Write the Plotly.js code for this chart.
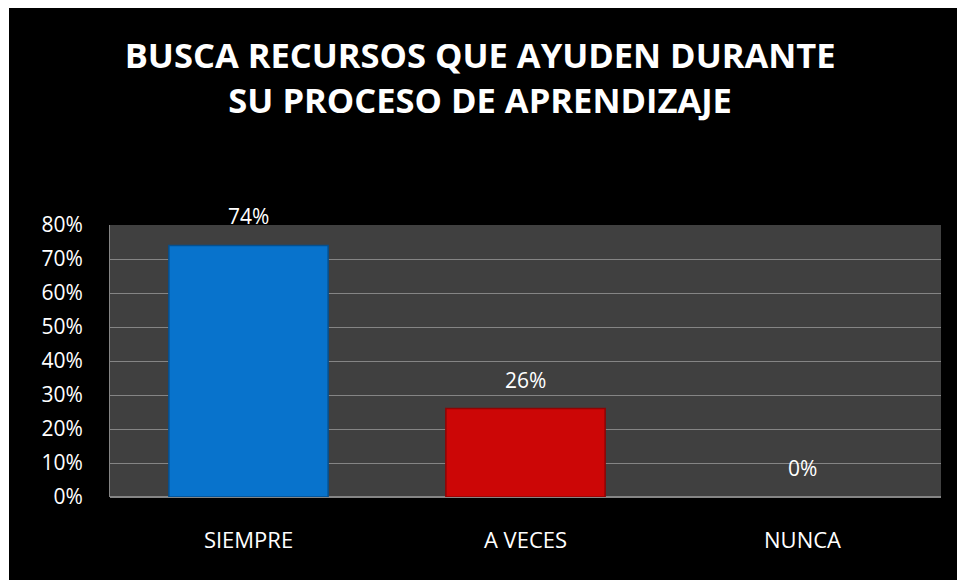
<!DOCTYPE html>
<html>
<head>
<meta charset="utf-8">
<script src="https://cdn.plot.ly/plotly-3.0.1.min.js"></script>
<style>
html,body{margin:0;padding:0;background:#ffffff;width:957px;height:580px;overflow:hidden;}
#chart{position:absolute;left:9px;top:8px;width:948px;height:572px;}
</style>
</head>
<body>
<div id="chart"></div>
<script>
const categories = ["SIEMPRE", "A VECES", "NUNCA"];
const values = [0.74, 0.26, 0.0];
const barColors = ["#0873CC", "#CC0606", "#CC0606"];
const barEdges = ["#05508F", "#8E0404", "rgba(0,0,0,0)"];
const tickVals = [0, 0.1, 0.2, 0.3, 0.4, 0.5, 0.6, 0.7, 0.8];
const tickText = ["0%", "10%", "20%", "30%", "40%", "50%", "60%", "70%", "80%"];
const titleText = "BUSCA RECURSOS QUE AYUDEN DURANTE<br>SU PROCESO DE APRENDIZAJE";

const font = "Open Sans, Lato, sans-serif";
const trace = {
  type: "bar",
  x: categories,
  y: values,
  width: 0.575,
  marker: {
    color: barColors,
    line: {color: barEdges, width: 1.5}
  },
  hoverinfo: "skip"
};
const annotations = categories.map((c, i) => ({
  x: c, y: values[i], xref: "x", yref: "y",
  text: Math.round(values[i] * 100) + "%",
  showarrow: false, yanchor: "bottom", yshift: 13,
  font: {color: "#ffffff", size: 21, family: font}
}));
const layout = {
  width: 948, height: 572,
  paper_bgcolor: "#000000",
  plot_bgcolor: "#404040",
  margin: {l: 101, r: 16, t: 217, b: 83},
  showlegend: false,
  annotations: annotations,
  title: {
    text: titleText,
    font: {color: "#ffffff", size: 34.5, family: font, weight: "bold"},
    x: 0.497, xanchor: "center", y: 0.895, yanchor: "top"
  },
  xaxis: {
    tickfont: {color: "#ffffff", size: 22, family: font},
    showgrid: false, zeroline: false, showline: false,
    ticks: "", ticklabelstandoff: 28
  },
  yaxis: {
    range: [0, 0.8],
    tickvals: tickVals, ticktext: tickText,
    tickfont: {color: "#ffffff", size: 21, family: font},
    showgrid: true, gridcolor: "#858585", gridwidth: 1,
    zeroline: true, zerolinecolor: "#858585", zerolinewidth: 1.5,
    showline: true, linecolor: "#858585", linewidth: 1,
    ticks: "", ticklabelstandoff: 22
  },
  bargap: 0.425
};
Plotly.newPlot("chart", [trace], layout, {displayModeBar: false, staticPlot: true});
</script>
</body>
</html>
